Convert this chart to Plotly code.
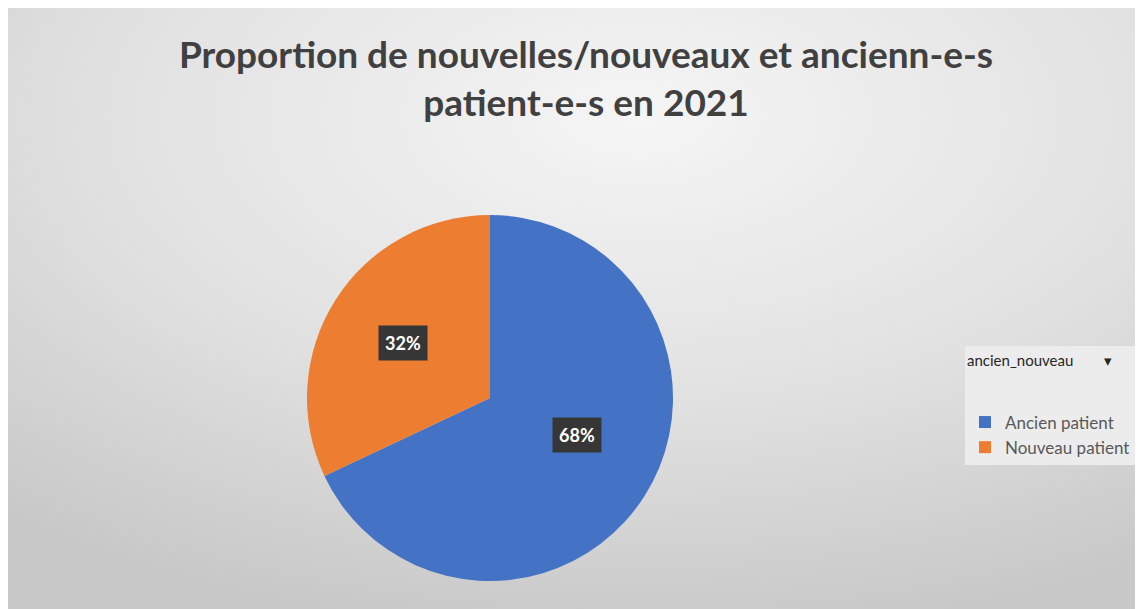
import base64
import math

import plotly.graph_objects as go

# values
labels = ["Ancien patient", "Nouveau patient"]
values = [68, 32]
colors = ["#4472C4", "#ED7D31"]

W, H = 1143, 609
cx, cy, R = 482, 390, 183  # pie centre / radius in figure pixels

# soft radial grey background like the Excel chart area
svg = (
    '<svg xmlns="http://www.w3.org/2000/svg" width="1143" height="609" preserveAspectRatio="none">'
    '<defs><radialGradient id="g" cx="0.55" cy="0.18" r="0.85">'
    '<stop offset="0" stop-color="#f5f5f5"/><stop offset="0.55" stop-color="#e1e1e1"/>'
    '<stop offset="1" stop-color="#c8c8c8"/></radialGradient></defs>'
    '<rect width="100%" height="100%" fill="url(#g)"/></svg>'
)
bg_uri = "data:image/svg+xml;base64," + base64.b64encode(svg.encode()).decode()

fig = go.Figure()
fig.add_trace(go.Pie(
    labels=labels,
    values=values,
    sort=False,
    direction="clockwise",
    rotation=0,
    textinfo="none",
    hoverinfo="label+percent",
    marker=dict(colors=colors, line=dict(width=0)),
    domain=dict(x=[(cx - R) / W, (cx + R) / W], y=[1 - (cy + R) / H, 1 - (cy - R) / H]),
))

# percentage labels in dark boxes, placed at each slice's mid angle
total = sum(values)
cum = 0
annotations = []
for v in values:
    mid = (cum + v / 2) / total * 2 * math.pi
    cum += v
    px_ = cx + 0.56 * R * math.sin(mid)
    py_ = cy - 0.56 * R * math.cos(mid)
    annotations.append(dict(
        x=px_ / W, y=1 - py_ / H, xref="paper", yref="paper",
        text="<b>%d%%</b>" % round(100 * v / total), showarrow=False,
        font=dict(family="Lato", size=18, color="white"),
        bgcolor="#363636", borderpad=6,
    ))

fig.update_layout(
    width=W, height=H,
    margin=dict(l=0, r=0, t=0, b=0),
    paper_bgcolor="#d8d8d8",
    plot_bgcolor="rgba(0,0,0,0)",
    images=[dict(
        source=bg_uri, xref="paper", yref="paper",
        x=0, y=1, sizex=1, sizey=1,
        xanchor="left", yanchor="top", sizing="stretch", layer="below",
    )],
    title=dict(
        text="<b>Proportion de nouvelles/nouveaux et ancienn-e-s<br>patient-e-s en 2021</b>",
        x=578 / W, xanchor="center", y=1 - 60 / H, yanchor="top",
        font=dict(family="Lato", size=37, color="#404040"),
    ),
    legend=dict(
        x=957 / W, y=1 - 338 / H, xanchor="left", yanchor="top",
        bgcolor="#ececec",
        itemwidth=30,
        title=dict(text="ancien_nouveau        ▾<br> <br> ",
                   font=dict(family="Lato", size=15, color="#262626")),
        font=dict(family="Lato", size=17, color="#595959"),
    ),
    annotations=annotations,
)

fig.write_html("out.html")
